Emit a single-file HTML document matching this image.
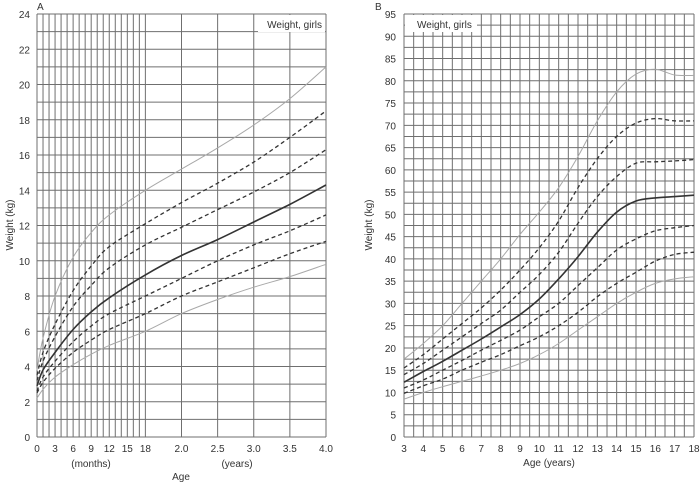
<!DOCTYPE html>
<html><head><meta charset="utf-8"><style>
html,body{margin:0;padding:0;background:#fff;width:700px;height:482px;overflow:hidden}
svg{display:block;font-family:"Liberation Sans",sans-serif}
</style></head><body>
<svg id="s" width="700" height="482" xmlns="http://www.w3.org/2000/svg"></svg>
<script>
const s=document.getElementById('s');let h='';
function L(x1,y1,x2,y2,c,w){h+=`<line x1="${x1}" y1="${y1}" x2="${x2}" y2="${y2}" stroke="${c}" stroke-width="${w}"/>`;}
function T(x,y,t,a,sz,extra){h+=`<text x="${x}" y="${y}" font-size="${sz||10}" text-anchor="${a||'middle'}" fill="#333" ${extra||''}>${t}</text>`;}
function path(pts,style){let d='M'+pts[0][0].toFixed(1)+','+pts[0][1].toFixed(1);
for(let i=0;i<pts.length-1;i++){const p0=pts[i-1]||pts[i],p1=pts[i],p2=pts[i+1],p3=pts[i+2]||p2;
const c1=[p1[0]+(p2[0]-p0[0])/6,p1[1]+(p2[1]-p0[1])/6],c2=[p2[0]-(p3[0]-p1[0])/6,p2[1]-(p3[1]-p1[1])/6];
d+=`C${c1[0].toFixed(1)},${c1[1].toFixed(1)} ${c2[0].toFixed(1)},${c2[1].toFixed(1)} ${p2[0].toFixed(1)},${p2[1].toFixed(1)}`;}
h+=`<path d="${d}" fill="none" ${style}/>`;}
const G='#6f6f6f';
// Panel A
const ax0=37,ax1=326,ay0=437,ay1=14;
const xA=y=>ax0+y*72.25, yA=k=>ay0-k*(ay0-ay1)/24;
for(let k=0;k<=24;k++)L(ax0,yA(k),ax1,yA(k),G,1);
for(let m=0;m<=18;m++)L(xA(m/12),ay1,xA(m/12),ay0,G,1);
[2,2.5,3,3.5,4].forEach(v=>L(xA(v),ay1,xA(v),ay0,G,1));
for(let k=0;k<=24;k+=2)T(30,yA(k)+4,k,'end',10);
[0,3,6,9,12,15,18].forEach(m=>T(xA(m/12),452,m));
['2.0','2.5','3.0','3.5','4.0'].forEach(v=>T(xA(+v),452,v));
T(91,467,'(months)');T(237,467,'(years)');T(181,480,'Age');
T(37,10,'A','start',10);
h+=`<rect x="258" y="15" width="67" height="17" fill="#fff"/>`;T(322,28,'Weight, girls','end',10);
T(13,225,'Weight (kg)','middle',10,'transform="rotate(-90 13 225)"');
const agA=[0,1/12,3/12,.5,.75,1,1.5,2,2.5,3,3.5,4];
const cA=[[3.8,5.6,8.0,10.2,11.6,12.6,14,15.2,16.4,17.7,19.2,21,'d'],
[3.5,4.8,6.4,8.3,9.7,10.8,12.1,13.3,14.4,15.6,17.0,18.5,'a'],
[3.2,4.3,5.7,7.4,8.6,9.6,10.9,11.9,12.9,13.9,15.0,16.3,'a'],
[2.9,3.8,4.8,6.1,7.1,7.9,9.2,10.3,11.2,12.2,13.2,14.3,'s'],
[2.6,3.4,4.3,5.4,6.3,7.0,8.0,9.0,10.0,10.9,11.7,12.6,'a'],
[2.5,3.1,3.9,4.8,5.5,6.1,7.0,8.0,8.8,9.6,10.4,11.1,'a'],
[2.2,2.7,3.4,4.1,4.7,5.2,6.0,7.0,7.8,8.5,9.1,9.8,'d']];
const st={d:'stroke="#a8a8a8" stroke-width="1"',a:'stroke="#333" stroke-width="1.3" stroke-dasharray="4,3"',s:'stroke="#333" stroke-width="1.6"'};
cA.forEach(c=>path(agA.map((a,i)=>[xA(a),yA(c[i])]),st[c[12]]));
// Panel B
const bx0=404,bx1=694,by0=437,by1=14;
const xB=a=>bx0+(a-3)*(bx1-bx0)/15, yB=k=>by0-k*(by0-by1)/95;
for(let k=0;k<=95;k+=2.5)L(bx0,yB(k),bx1,yB(k),G,1);
for(let a=3;a<=18;a+=0.5)L(xB(a),by1,xB(a),by0,G,1);
for(let k=0;k<=95;k+=5)T(396,yB(k)+4,k,'end',10);
for(let a=3;a<=18;a++)T(xB(a),452,a);
T(549,466,'Age (years)');T(375,10,'B','start',10);
h+=`<rect x="405" y="15" width="72" height="17" fill="#fff"/>`;T(417,28,'Weight, girls','start',10);
T(372,225,'Weight (kg)','middle',10,'transform="rotate(-90 372 225)"');
const agB=[3,4,5,6,7,8,9,10,11,12,13,14,15,16,17,18];
const cB=[[17.5,21,25,30,35,40,45.5,50.5,56,63,71,77.5,81.5,82.6,81.3,81.2,'d'],
[15.5,18.5,22,25.5,29,33,37.5,42.5,48.5,56,62.5,67.5,70.5,71.5,71,71,'a'],
[14,16.5,19.5,22.5,25.5,28.5,32.5,36.5,41.5,48,54,58.5,61.5,61.8,62,62.3,'a'],
[12.3,14.7,17,19.5,22,24.7,27.5,31,35.5,40.5,46,50.5,53,53.7,54,54.3,'s'],
[11,12.8,15,17.2,19.5,21.7,24,27,30,34,38,42,44.5,46.3,47,47.5,'a'],
[9.8,11.5,13,15,16.8,18.5,20.5,22.5,25,28,31.5,34.5,37,39.5,41,41.5,'a'],
[8.5,10,11.3,12.5,13.7,15,16.5,18.5,21,24,27,30,32.5,34.5,35.5,36,'d']];
cB.forEach(c=>path(agB.map((a,i)=>[xB(a),yB(c[i])]),st[c[16]]));
s.innerHTML=h;
</script>
</body></html>
